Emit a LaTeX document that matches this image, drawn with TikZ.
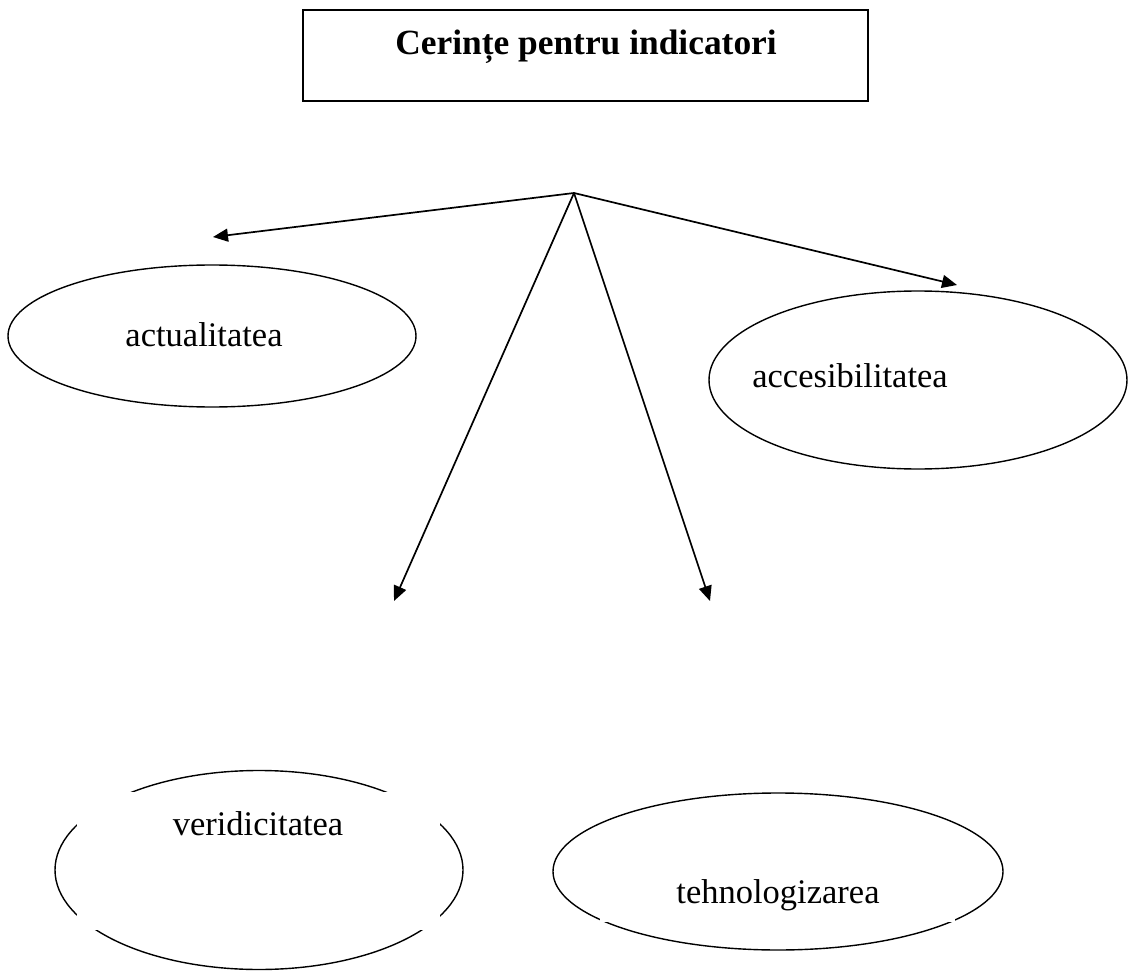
\documentclass[tikz,border=0pt]{standalone}
\usepackage{fontspec}
\setmainfont{Liberation Serif}
\usetikzlibrary{arrows.meta, shapes.geometric}

\begin{document}
\begin{tikzpicture}[x=1pt, y=-1pt,
    every node/.style={font=\fontsize{34.5}{40}\selectfont},
    oval/.style={ellipse, draw, line width=1.4pt, inner sep=0pt},
    link/.style={-{Triangle[length=15pt, width=13pt]}, line width=1.7pt}]

    \useasboundingbox (0,0) rectangle (1128,971);

    % --- title box
    \node[draw, line width=1.6pt, minimum width=565pt, minimum height=91pt,
          inner sep=0pt] (titlebox) at (585.5,55.5) {};
    \node[anchor=base, font=\fontsize{35.4}{40}\selectfont\bfseries]
          (title) at (586,55) {Cerințe pentru indicatori};

    % --- ovals
    \node[oval, minimum width=408pt, minimum height=142pt] (actual) at (212,336) {};
    \node[oval, minimum width=418pt, minimum height=178pt] (acces) at (918,380) {};
    \node[oval, minimum width=408pt, minimum height=199pt] (verid) at (259,870) {};
    \node[oval, minimum width=450pt, minimum height=157pt] (tehno) at (778,871.5) {};

    % white text boxes that hide parts of the lower ovals
    \fill[white] (77,792) rectangle (440,930);
    \fill[white] (600,840) rectangle (955,922);

    % --- labels
    \node[anchor=base] (actualT) at (204,346) {actualitatea};
    \node[anchor=base] (accesT) at (850,387) {accesibilitatea};
    \node[anchor=base] (veridT) at (258,835) {veridicitatea};
    \node[anchor=base] (tehnoT) at (778,903) {tehnologizarea};

    % --- arrows from one point
    \coordinate (root) at (574,193);
    \coordinate (toActual) at (213,237);
    \coordinate (toAcces) at (957,285);
    \coordinate (toVerid) at (394,601);
    \coordinate (toTehno) at (710,601);
    \draw[link] (root) -- (toActual);
    \draw[link] (root) -- (toAcces);
    \draw[link] (root) -- (toVerid);
    \draw[link] (root) -- (toTehno);
\end{tikzpicture}
\end{document}
